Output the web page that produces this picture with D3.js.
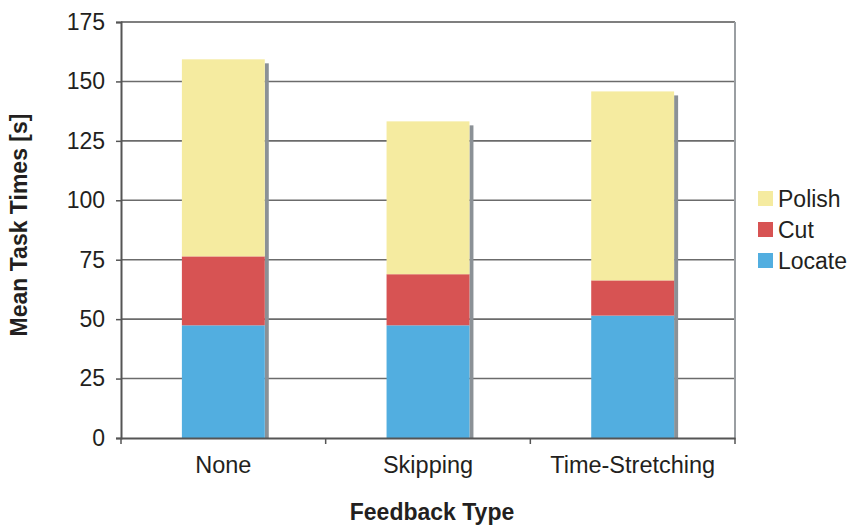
<!DOCTYPE html>
<html>
<head>
<meta charset="utf-8">
<script src="https://cdn.jsdelivr.net/npm/d3@7"></script>
<style>
  html, body { margin: 0; padding: 0; background: #fff; }
  svg text { font-family: "Liberation Sans", Arial, Helvetica, sans-serif; fill: #231f20; }
</style>
</head>
<body>
<svg id="chart" width="851" height="527"></svg>
<script>
// Mean task time per phase, by feedback type
const categories = ["None", "Skipping", "Time-Stretching"];
const phases = ["Locate", "Cut", "Polish"];
const locate = [47.4, 47.4, 51.5];
const cut = [29.0, 21.5, 14.8];
const polish = [82.9, 64.3, 79.5];
const yTicks = [0, 25, 50, 75, 100, 125, 150, 175];
const legendOrder = ["Polish", "Cut", "Locate"];

const colors = { Locate: "#52aee0", Cut: "#d75353", Polish: "#f5eba0" };
const FONT = "'Liberation Sans', Arial, Helvetica, sans-serif";

const svg = d3.select("#chart");
const margin = { left: 121, right: 116, top: 22, bottom: 89 };
const W = 851, H = 527;
const x0 = margin.left, x1 = W - margin.right;
const y0 = H - margin.bottom, y1 = margin.top;

const x = d3.scaleBand().domain(categories).range([x0, x1]).paddingInner(0.595).paddingOuter(0.2975);
const y = d3.scaleLinear().domain([0, 175]).range([y0, y1]);

const rows = categories.map((c, i) => ({ cat: c, Locate: locate[i], Cut: cut[i], Polish: polish[i] }));
const stacked = d3.stack().keys(phases)(rows);

// horizontal gridlines
svg.append("g").selectAll("line").data(yTicks.filter(t => t > 0)).join("line")
  .attr("x1", x0).attr("x2", x1)
  .attr("y1", d => y(d)).attr("y2", d => y(d))
  .attr("stroke", d => d === 175 ? "#555" : "#6b6b6b").attr("stroke-width", 1.6);

// right frame
svg.append("line").attr("x1", x1).attr("x2", x1).attr("y1", y1).attr("y2", y0)
  .attr("stroke", "#9a9ea2").attr("stroke-width", 2);

// bar shadows
const totals = rows.map(r => r.Locate + r.Cut + r.Polish);
svg.append("g").selectAll("rect").data(rows).join("rect")
  .attr("x", d => x(d.cat) + x.bandwidth())
  .attr("width", 4)
  .attr("y", (d, i) => y(totals[i]) + 4)
  .attr("height", (d, i) => y0 - y(totals[i]) - 4)
  .attr("fill", "#8b9196");

// stacked bars
svg.append("g").selectAll("g").data(stacked).join("g")
  .attr("fill", s => colors[s.key])
  .selectAll("rect").data(s => s).join("rect")
  .attr("x", d => x(d.data.cat))
  .attr("width", x.bandwidth())
  .attr("y", d => y(d[1]))
  .attr("height", d => y(d[0]) - y(d[1]));

// y axis
const yAxis = svg.append("g").attr("transform", `translate(${x0},0)`)
  .call(d3.axisLeft(y).tickValues(yTicks).tickSize(5).tickPadding(11));
yAxis.select(".domain").attr("stroke", "#555").attr("stroke-width", 2);
yAxis.selectAll(".tick line").attr("stroke", "#555").attr("stroke-width", 1.5);
yAxis.selectAll(".tick text").attr("font-size", 23).attr("fill", "#231f20")
  .style("font-family", FONT);

// x axis
const xAxis = svg.append("g").attr("transform", `translate(0,${y0})`)
  .call(d3.axisBottom(x).tickSize(0).tickPadding(18));
xAxis.select(".domain").attr("stroke", "#555").attr("stroke-width", 2);
xAxis.selectAll(".tick text").attr("font-size", 23.5).attr("fill", "#231f20")
  .style("font-family", FONT);
// category separator ticks
const seps = d3.range(categories.length + 1).map(i => x0 + i * (x1 - x0) / categories.length);
svg.append("g").selectAll("line").data(seps).join("line")
  .attr("x1", d => d).attr("x2", d => d)
  .attr("y1", y0).attr("y2", y0 + 6)
  .attr("stroke", "#555").attr("stroke-width", 1.5);

// axis titles
svg.append("text").attr("x", (x0 + x1) / 2 + 4).attr("y", 520)
  .attr("text-anchor", "middle").attr("font-size", 23).attr("font-weight", "bold")
  .text("Feedback Type");
svg.append("text").attr("transform", `translate(27,225) rotate(-90)`)
  .attr("text-anchor", "middle").attr("font-size", 23).attr("font-weight", "bold")
  .text("Mean Task Times [s]");

// legend
const legend = svg.append("g").attr("transform", "translate(758,191)");
const li = legend.selectAll("g").data(legendOrder).join("g")
  .attr("transform", (d, i) => `translate(0,${i * 31})`);
li.append("rect").attr("width", 15).attr("height", 15).attr("fill", d => colors[d]);
li.append("text").attr("x", 20).attr("y", 16).attr("font-size", 23).text(d => d);
</script>
</body>
</html>
